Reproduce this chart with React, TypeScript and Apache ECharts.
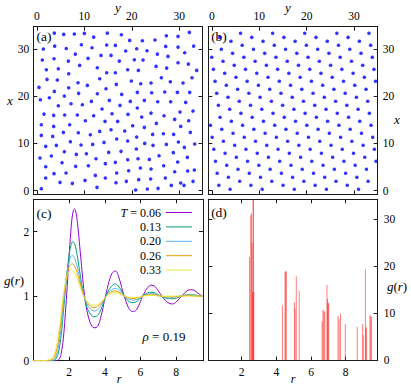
import React, { useEffect, useRef } from 'react';
import * as echarts from 'echarts';

// ---------- panel (a): disordered configuration, [y, x] ----------
const aPoints: number[][] = [
  [3.69,33.37],[5.66,33.09],[7.90,33.16],[10.01,33.30],[11.97,32.52],[14.85,33.37],[17.80,33.02],[19.55,31.82],[22.22,31.75],[24.88,31.89],[27.27,32.80],[29.73,32.66],[32.11,33.51],
  [1.38,29.98],[3.76,30.61],[6.2,30.1],[9.38,30.90],[11.62,30.26],[14.71,30.83],[16.53,30.76],[18.71,29.56],[21.02,30.05],[23.20,29.63],[25.38,28.92],[27.13,30.54],[29.73,30.40],[31.13,29.20],[33.02,30.61],
  [1.16,27.65],[3.62,27.93],[6.64,27.43],[8.11,28.92],[10.78,28.01],[13.52,28.64],[15.62,28.64],[17.37,27.43],[20.53,27.72],[22.36,27.65],[27.62,28.43],[29.73,27.08],
  [2.01,25.60],[4.53,25.81],[6.71,24.75],[9.02,26.52],[12.74,26.03],[14.71,24.97],[16.53,24.97],[19.13,25.60],[21.38,25.46],[25.1,26.3],[27.34,25.95],[31.9,26.8],[33.66,25.46],
  [2.15,23.55],[4.32,23.41],[8.67,22.85],[13.24,23.70],[19.90,23.20],[24.04,22.78],[26.22,23.91],[28.11,23.06],[30.78,22.78],[32.67,23.91],
  [0.46,21.86],[3.69,21.01],[6.71,21.79],[10.64,22.28],[14.57,21.57],[16.74,22.49],[21.87,22.63],
  [0.74,19.24],[2.64,19.67],[5.80,20.02],[8.81,20.59],[12.74,20.52],[17.87,20.37],[21.16,20.80],[24.18,20.73],[26.92,20.87],[29.59,20.80],[32.18,20.80],
  [4.53,17.97],[7.20,18.39],[9.59,18.19],[11.48,18.89],[15.27,19.10],[17.52,18.04],[19.69,18.89],[22.64,19.10],[25.45,18.82],[28.18,18.82],[31.34,18.68],
  [13.73,17.27],[21.16,17.48],
  [1.52,16.2],[3.55,15.93],[5.87,16.0],[8.53,16.0],[11.97,15.86],[15.83,16.28],[19.20,16.14],[22.08,15.57],[24.04,16.41],[26.78,15.85],[30.15,16.63],[32.88,16.84],
  [0.95,13.95],[3.55,13.59],[6.92,13.95],[10.22,14.79],[14.36,14.65],[17.02,14.65],[20.18,13.74],[22.64,13.38],[25.17,14.22],[29.02,15.07],[30.29,13.59],[31.97,14.79],
  [0.95,11.68],[3.34,11.47],[5.59,12.32],[8.74,12.25],[11.27,11.83],[13.24,12.53],[15.62,12.89],[18.50,12.61],[21.02,11.33],[24.39,11.90],[26.64,12.04],[28.81,11.90],[32.32,12.32],
  [1.87,9.36],[4.11,9.57],[7.06,10.35],[9.31,9.64],[11.76,9.78],[14.15,10.2],[16.81,10.91],[19.13,10.49],[22.71,9.99],[24.46,9.57],[27.27,9.78],[29.80,10.28],[31.06,9.15],[33.24,9.85],
  [0.67,6.89],[3.06,7.31],[5.80,8.23],[8.32,7.66],[10.43,7.80],[12.46,6.74],[15.13,8.09],[17.73,8.30],[20.95,8.79],[19.13,6.53],[21.30,6.74],[23.69,6.60],[25.73,7.38],[28.74,8.02],[31.69,7.03],
  [1.87,5.05],[5.31,5.90],[8.18,5.12],[10.85,5.26],[14.43,5.69],[16.53,5.97],[19.34,4.20],[21.80,4.77],[24.04,4.56],[26.71,5.26],[29.66,6.04],[31.76,4.13],[33.17,4.34],
  [3.62,3.57],[6.15,3.71],[12.32,3.21],[16.81,3.71],[29.02,3.99],
  [1.87,2.65],[4.88,1.73],[7.48,1.52],[10.15,2.15],[14.43,2.65],[16.67,1.66],[18.85,1.94],[21.45,2.30],[23.97,2.44],[27.06,2.65],[30.29,1.59],[32.88,1.94],
  [0.95,0.39],[12.67,0.67],[20.81,0.11],[23.27,0.32],[25.52,0.46],[28.32,1.09],[30.99,1.09],
];

// ---------- panel (b): crystal, row heights (x) and positions along y ----------
const bRowX: number[] = [
  33.32,32.47,31.63,30.78,29.93,29.08,28.24,27.39,26.54,25.69,
  24.85,24.00,23.15,22.30,21.47,20.61,19.76,18.91,18.07,17.22,
  16.37,15.52,14.68,13.83,12.98,12.13,11.29,10.44,9.59,8.74,
  7.90,7.05,6.20,5.35,4.50,3.66,2.81,1.96,1.12,0.27,
];
const bRowY: number[][] = [
  [6.03,12.81,19.59,26.37,33.15],
  [1.62,8.40,15.19,21.97,28.75],
  [4.00,10.78,17.56,24.35,31.13],
  [6.38,13.16,19.94,26.72,33.51],
  [1.97,8.76,15.54,22.32,29.10],
  [4.35,11.13,17.92,24.70,31.48],
  [-0.05,6.73,13.51,20.29,27.07,33.86],
  [2.33,9.11,15.89,22.67,29.46],
  [4.70,11.49,18.27,25.05,31.83],
  [0.30,7.08,13.86,20.65,27.43,34.21],
  [2.68,9.46,16.24,23.02,29.81],
  [5.06,11.84,18.62,25.40,32.18],
  [0.65,7.43,14.22,21.00,27.78,34.56],
  [3.03,9.81,16.59,23.38,30.16],
  [5.41,12.19,18.97,25.75,32.54],
  [1.00,7.79,14.57,21.35,28.13],
  [3.38,10.16,16.95,23.73,30.51],
  [5.76,12.54,19.32,26.11,32.89],
  [1.36,8.14,14.92,21.70,28.48],
  [3.73,10.52,17.30,24.08,30.86],
  [6.11,12.89,19.67,26.46,33.24],
  [1.71,8.49,15.27,22.05,28.84],
  [4.09,10.87,17.65,24.43,31.21],
  [-0.32,6.46,13.25,20.03,26.81,33.59],
  [2.06,8.84,15.62,22.41,29.19],
  [4.44,11.22,18.00,24.78,31.57],
  [0.03,6.82,13.60,20.38,27.16,33.94],
  [2.41,9.19,15.98,22.76,29.54],
  [4.79,11.57,18.35,25.14,31.92],
  [0.39,7.17,13.95,20.73,27.51,34.30],
  [2.76,9.55,16.33,23.11,29.89],
  [5.14,11.92,18.71,25.49,32.27],
  [0.74,7.52,14.30,21.08,27.87,34.65],
  [3.12,9.90,16.68,23.46,30.24],
  [5.49,12.28,19.06,25.84,32.62],
  [1.09,7.87,14.65,21.44,28.22],
  [3.47,10.25,17.03,23.81,30.60],
  [5.85,12.63,19.41,26.19,32.97],
  [1.44,8.22,15.01,21.79,28.57],
  [3.82,10.60,17.38,24.17,30.95],
];

// ---------- panel (c): g(r) for several temperatures ----------
const rValues: number[] = [
  0,0.6,0.8,1.0,1.1,1.2,1.3,1.4,1.5,1.6,1.7,1.8,1.9,2.0,2.1,2.2,2.3,2.4,2.5,2.6,2.7,2.8,2.9,3.0,
  3.2,3.4,3.6,3.8,4.0,4.2,4.4,4.6,4.8,5.0,5.2,5.4,5.6,5.8,6.0,6.2,6.4,6.6,6.8,7.0,7.2,7.4,7.6,7.8,
  8.0,8.2,8.4,8.6,8.8,9.0,9.2,9.4,9.5,
];
const gT006: number[] = [
  0,0,0,0,0,0,0,0.01,0.05,0.17,0.4,0.75,1.15,1.6,2.0,2.27,2.35,2.28,2.06,1.77,1.47,1.18,0.95,0.78,
  0.58,0.51,0.53,0.70,0.95,1.18,1.35,1.39,1.28,1.08,0.91,0.79,0.76,0.80,0.92,1.04,1.13,1.17,1.15,1.08,1.00,0.93,0.89,0.88,
  0.91,0.97,1.03,1.08,1.10,1.09,1.05,1.01,0.99,
];
const gT013: number[] = [
  0,0,0,0,0,0.01,0.04,0.12,0.27,0.5,0.8,1.1,1.4,1.63,1.78,1.84,1.82,1.72,1.56,1.38,1.2,1.05,0.93,0.83,
  0.72,0.68,0.70,0.80,0.95,1.08,1.16,1.19,1.14,1.05,0.96,0.91,0.90,0.92,0.97,1.02,1.05,1.06,1.05,1.02,0.99,0.97,0.96,0.96,
  0.97,0.99,1.01,1.02,1.02,1.02,1.01,1.0,1.0,
];
const gT020: number[] = [
  0,0,0,0,0.01,0.03,0.09,0.2,0.38,0.62,0.9,1.17,1.39,1.53,1.61,1.63,1.6,1.52,1.41,1.28,1.15,1.04,0.95,0.88,
  0.80,0.77,0.79,0.86,0.96,1.05,1.10,1.12,1.09,1.03,0.98,0.95,0.94,0.95,0.98,1.01,1.03,1.04,1.03,1.01,0.99,0.98,0.97,0.98,
  0.99,1.0,1.01,1.01,1.01,1.01,1.0,1.0,1.0,
];
const gT026: number[] = [
  0,0,0,0.01,0.03,0.07,0.16,0.3,0.5,0.74,0.99,1.2,1.36,1.45,1.49,1.5,1.47,1.41,1.32,1.22,1.12,1.03,0.96,0.91,
  0.84,0.82,0.84,0.89,0.97,1.03,1.07,1.08,1.06,1.02,0.99,0.97,0.96,0.97,0.99,1.01,1.02,1.02,1.02,1.01,1.0,0.99,0.99,0.99,
  0.99,1.0,1.0,1.01,1.01,1.0,1.0,1.0,1.0,
];
const gT033: number[] = [
  0,0,0.01,0.03,0.06,0.12,0.23,0.39,0.6,0.83,1.04,1.21,1.32,1.38,1.41,1.4,1.37,1.31,1.24,1.16,1.08,1.01,0.96,0.92,
  0.87,0.86,0.87,0.91,0.97,1.02,1.05,1.05,1.04,1.01,0.99,0.98,0.98,0.98,0.99,1.0,1.01,1.01,1.01,1.0,1.0,1.0,1.0,1.0,
  1.0,1.0,1.0,1.0,1.0,1.0,1.0,1.0,1.0,
];
const temperatures: string[] = ['0.06', '0.13', '0.20', '0.26', '0.33'];
const curveSets: number[][] = [gT006, gT013, gT020, gT026, gT033];
const curveColors: string[] = ['#9400d3', '#009e73', '#56b4e9', '#e69f00', '#f0e442'];

// ---------- panel (d): g(r) of the crystal ----------
const spikeR: number[] = [
  2.45,2.52,2.56,2.60,2.63,2.65,2.68,2.70,
  4.35,4.50,4.54,4.57,
  5.04,5.08,5.15,5.32,
  6.64,6.69,6.74,6.79,6.92,6.95,6.99,7.02,
  7.56,7.62,7.70,7.98,
  8.67,8.98,9.02,9.14,9.17,9.19,9.40,9.45,9.48,
];
const spikeG: number[] = [
  22,30.9,31.3,25,14.5,34.3,34.3,14.5,
  11.7,18.8,19.0,18.9,
  12.4,11,17.9,14.8,
  8.3,10.7,10.5,10.3,16.0,13,12.2,12.1,
  9.4,8.8,9.9,7.7,
  7.1,7.7,5.3,19.3,6.8,7.0,9.6,9.4,9.2,
];

const posTicks: number[] = [0, 10, 20, 30];
const rTicks: number[] = [2, 4, 6, 8];
const gTicksC: number[] = [0, 1, 2];
const gTicksD: number[] = [0, 10, 20, 30];

const FONT = 'Liberation Serif, serif';
const AX = '#1a1a1a';

function mkAxis(gridIndex: number, position: string, min: number, max: number,
  ticks: number[], labels: boolean, margin = 5) {
  return {
    type: 'value', gridIndex, position, min, max,
    axisLine: { show: true, onZero: false, lineStyle: { color: AX, width: 1 } },
    axisTick: { show: true, inside: true, length: 4, customValues: ticks, lineStyle: { color: AX, width: 1 } },
    axisLabel: { show: labels, customValues: ticks, margin, color: '#000', fontFamily: FONT, fontSize: 11.5 },
    splitLine: { show: false },
  };
}

function txt(x: number, y: number, text: string, opts: any = {}) {
  const size = opts.size || 13;
  return {
    type: 'text', x, y, silent: true,
    style: {
      text, fill: '#000', fontFamily: FONT, fontSize: size,
      fontStyle: opts.italic ? 'italic' : 'normal',
      align: opts.align || 'center', verticalAlign: 'middle',
      rich: {
        it: { fontStyle: 'italic', fontFamily: FONT, fontSize: size },
        n: { fontFamily: FONT, fontSize: size },
      },
    },
  };
}

export default function App() {
  const ref = useRef<HTMLDivElement>(null);
  useEffect(() => {
    if (!ref.current) return;
    const chart = echarts.init(ref.current, null, { renderer: 'svg' });

    const bPoints: number[][] = [];
    bRowY.forEach((row, i) => row.forEach((y) => bPoints.push([y, bRowX[i]])));

    const graphics: any[] = [
      txt(44, 36, '(a)', { size: 13.5 }),
      txt(219, 36, '(b)', { size: 13.5 }),
      txt(44, 213, '(c)', { size: 13.5 }),
      txt(219, 212, '(d)', { size: 13.5 }),
      txt(118, 7, 'y', { italic: true }),
      txt(288, 7, 'y', { italic: true }),
      txt(10, 100, 'x', { italic: true }),
      txt(397, 119, 'x', { italic: true }),
      txt(14, 280, '{it|g}{n|(}{it|r}{n|)}'),
      txt(397, 286, '{it|g}{n|(}{it|r}{n|)}'),
      txt(119, 379, 'r', { italic: true, size: 12 }),
      txt(293, 379, 'r', { italic: true, size: 12 }),
      txt(164, 336, '{it|ρ}{n| = 0.19}', { size: 13 }),
    ];
    temperatures.forEach((t, i) => {
      const y = 212.5 + i * 14.4;
      graphics.push(txt(161, y, i === 0 ? '{it|T}{n| = ' + t + '}' : t, { align: 'right', size: 12 }));
      graphics.push({
        type: 'line', silent: true,
        shape: { x1: 166, y1: y, x2: 192, y2: y },
        style: { stroke: curveColors[i], lineWidth: 1 },
      });
    });

    const series: any[] = [
      {
        type: 'scatter', xAxisIndex: 0, yAxisIndex: 0, data: aPoints,
        symbol: 'circle', symbolSize: 3.6, itemStyle: { color: '#0000ff' },
      },
      {
        type: 'scatter', xAxisIndex: 2, yAxisIndex: 2, data: bPoints,
        symbol: 'circle', symbolSize: 3.6, itemStyle: { color: '#0000ff' },
      },
    ];
    curveSets.forEach((g, i) => {
      series.push({
        type: 'line', name: temperatures[i], xAxisIndex: 4, yAxisIndex: 4,
        data: rValues.map((r, j) => [r, g[j]]),
        showSymbol: false, smooth: 0.4, clip: true,
        lineStyle: { color: curveColors[i], width: 1 },
      });
    });
    series.push({
      type: 'bar', xAxisIndex: 6, yAxisIndex: 6,
      data: spikeR.map((r, i) => [r, spikeG[i]]),
      barWidth: 1, itemStyle: { color: 'rgba(255,0,0,0.5)' },
    });

    chart.setOption({
      animation: false,
      grid: [
        { left: 33.3, top: 26.7, width: 169.2, height: 167.6 },
        { left: 208.3, top: 26.7, width: 169.4, height: 167.6 },
        { left: 33.3, top: 199.3, width: 169.7, height: 161.4 },
        { left: 208.3, top: 199.3, width: 169.4, height: 161.2 },
      ],
      xAxis: [
        mkAxis(0, 'top', -0.74, 34.88, posTicks, true, 5),
        mkAxis(0, 'bottom', -0.74, 34.88, posTicks, false),
        mkAxis(1, 'top', -0.78, 35.0, posTicks, true, 5),
        mkAxis(1, 'bottom', -0.78, 35.0, posTicks, false),
        mkAxis(2, 'bottom', 0, 9.5, rTicks, true, 5),
        mkAxis(2, 'top', 0, 9.5, rTicks, false),
        mkAxis(3, 'bottom', 0.07, 9.85, rTicks, true, 5),
        mkAxis(3, 'top', 0.07, 9.85, rTicks, false),
      ],
      yAxis: [
        mkAxis(0, 'left', -0.8, 34.72, posTicks, true, 4),
        mkAxis(0, 'right', -0.8, 34.72, posTicks, false),
        mkAxis(1, 'right', -0.8, 34.72, posTicks, true, 5),
        mkAxis(1, 'left', -0.8, 34.72, posTicks, false),
        mkAxis(2, 'left', 0, 2.5, gTicksC, true, 4),
        mkAxis(2, 'right', 0, 2.5, gTicksC, false),
        mkAxis(3, 'right', -0.1, 34.3, gTicksD, true, 6),
        mkAxis(3, 'left', -0.1, 34.3, gTicksD, false),
      ],
      series,
      graphic: graphics,
    });
    return () => chart.dispose();
  }, []);
  return <div ref={ref} style={{ position: 'absolute', left: 0, top: 0, width: 411, height: 386 }} />;
}
